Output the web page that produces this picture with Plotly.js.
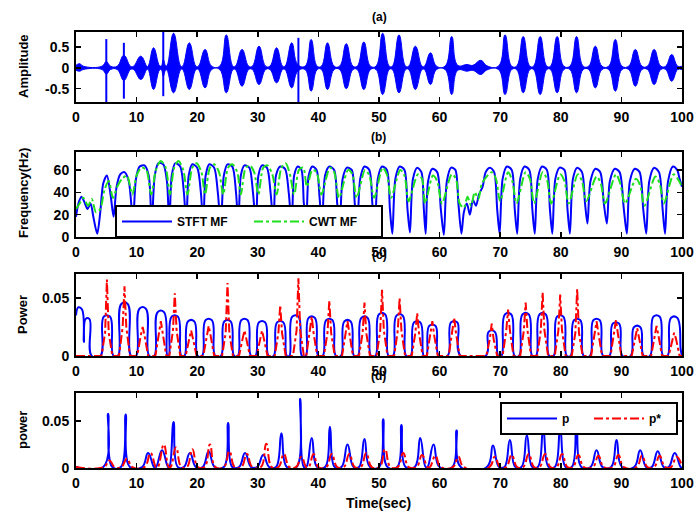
<!DOCTYPE html>
<html>
<head>
<meta charset="utf-8">
<script src="https://cdn.plot.ly/plotly-3.0.1.min.js"></script>
<style>html,body{margin:0;padding:0;background:#fff;}#chart{width:699px;height:512px;}</style>
</head>
<body>
<div id="chart"></div>
<script>
// ---------------- tick labels ----------------
const timeTicks = [0,10,20,30,40,50,60,70,80,90,100];
const ampTicks = [-0.5,0,0.5];
const ampTickText = ['-0.5','0','0.5'];
const freqTicks = [0,20,40,60];
const powTicks = [0,0.05];
const powTickText = ['0','0.05'];

// ---------------- (a) amplitude envelope ----------------
const ampTime = [0,0.6,1.2,4.3,5.0,5.7,6.8,7.9,9.0,9.5,10.7,11.7,11.9,12.8,13.8,14.1,14.4,14.8,15.0,16.1,17.3,17.6,18.7,19.8,20.2,21.3,22.4,23.7,24.8,25.9,26.3,27.4,28.5,29.1,30.2,31.3,32.0,33.1,34.1,34.5,35.6,36.6,37.8,38.8,39.8,40.5,41.5,42.6,43.5,44.6,45.7,46.4,47.5,48.6,49.5,50.6,51.7,52.2,53.3,54.4,54.9,56.0,57.1,57.5,58.5,59.5,60.9,62.0,63.0,64.5,65.5,66.8,67.8,69.7,70.8,71.9,72.7,73.8,74.9,75.5,76.6,77.7,78.3,79.4,80.5,81.5,82.6,83.7,84.6,85.7,86.8,87.9,89.0,90.1,91.2,92.3,93.4,94.3,95.4,96.5,97.3,98.3,99.3,100];
const ampUpper = [.06,.1,.04,.04,.15,.04,.04,.3,.04,.04,.28,.04,.04,.48,.05,.05,.2,.05,.05,.83,.04,.04,.6,.04,.04,.44,.04,.04,.79,.04,.04,.44,.04,.04,.52,.04,.04,.48,.04,.04,.6,.08,.04,.68,.04,.04,.6,.04,.04,.58,.04,.04,.62,.04,.04,.83,.04,.04,.79,.04,.04,.52,.04,.04,.36,.04,.04,.75,.06,.08,.06,.18,.05,.04,.79,.04,.04,.75,.04,.04,.75,.04,.04,.75,.04,.04,.75,.04,.04,.52,.04,.04,.68,.04,.04,.44,.04,.04,.44,.04,.04,.32,.04,.04];
const ampLower = [-.06,-.08,-.04,-.04,-.15,-.04,-.04,-.3,-.04,-.04,-.28,-.04,-.04,-.52,-.05,-.05,-.2,-.05,-.05,-.6,-.04,-.04,-.52,-.04,-.04,-.48,-.04,-.04,-.6,-.04,-.04,-.44,-.04,-.04,-.4,-.04,-.04,-.36,-.04,-.04,-.48,-.08,-.04,-.56,-.04,-.04,-.52,-.04,-.04,-.5,-.04,-.04,-.52,-.04,-.04,-.64,-.04,-.04,-.6,-.04,-.04,-.52,-.04,-.04,-.4,-.04,-.04,-.64,-.06,-.08,-.06,-.16,-.05,-.04,-.64,-.04,-.04,-.6,-.04,-.04,-.64,-.04,-.04,-.6,-.04,-.04,-.6,-.04,-.04,-.48,-.04,-.04,-.56,-.04,-.04,-.44,-.04,-.04,-.4,-.04,-.04,-.32,-.04,-.04];
const spikeTime = [5.0,7.9,14.4,36.7];
const spikeTop = [0.69,0.6,0.86,0.72];
const spikeBottom = [-0.82,-0.74,-0.68,-0.82];

// ---------------- (b) mean frequency ----------------
const stftTime = [0,0.4,0.9,1.4,1.9,2.4,2.9,3.5,4.0,4.5,5.1,5.7,6.2,6.7,7.3,8.0,8.7,9.4,9.9,10.5,11.3,12.0,12.5,13.0,13.6,14.4,15.0,15.4,15.8,16.4,17.2,17.8,18.2,18.6,19.2,20.0,20.6,21.0,21.4,22.0,22.8,23.4,23.9,24.4,25.0,25.8,26.4,26.8,27.2,27.8,28.6,29.2,29.7,30.1,30.7,31.5,32.1,32.6,33.0,33.7,34.5,35.1,35.6,36.0,36.6,37.2,37.6,38.0,38.4,39.0,39.7,40.2,40.6,41.1,41.8,42.6,43.1,43.5,44.0,44.7,45.5,46.0,46.4,46.9,47.6,48.4,48.9,49.3,49.8,50.5,51.3,51.8,52.2,52.7,53.4,54.2,54.7,55.1,55.6,56.3,57.0,57.4,57.7,58.1,58.8,59.6,60.2,60.7,61.2,61.9,62.6,63.1,63.6,64.0,64.5,65.0,65.5,66.0,66.5,67.1,67.6,68.3,69.0,69.5,69.9,70.4,71.1,71.9,72.4,72.8,73.3,74.0,74.8,75.3,75.7,76.2,76.9,77.7,78.2,78.6,79.1,79.8,80.6,81.1,81.5,82.0,82.7,83.5,84.0,84.4,84.9,85.7,86.5,87.1,87.6,88.1,88.9,89.7,90.4,90.9,91.4,92.2,93.0,93.6,94.1,94.6,95.4,96.2,96.8,97.2,97.7,98.5,99.2,99.6,100];
const stftMF = [18,30,36,31,25,30,17,3,22,48,55,38,18,45,56,58,50,15,52,63,64,55,12,55,66,65,50,10,55,66,63,40,10,55,65,62,40,10,55,65,62,40,10,55,65,63,40,10,55,64,62,40,10,55,64,62,40,10,55,63,61,40,10,55,63,60,30,15,55,63,60,35,8,55,63,60,30,5,52,62,60,30,5,52,63,60,30,4,52,63,60,25,3,52,63,60,25,4,52,62,58,25,3,50,61,58,25,2,50,62,60,30,3,22,30,20,33,28,38,45,58,62,58,25,3,52,63,60,25,3,52,63,60,25,3,52,63,60,25,3,52,62,60,25,3,52,62,58,30,12,50,61,58,30,12,50,61,58,25,3,50,61,58,25,3,50,62,58,25,3,50,63,60,52,45];
const cwtTime = [0,0.6,1.2,2.0,2.6,3.3,4.0,4.7,5.4,6.1,6.8,7.6,8.4,9.3,10.0,10.8,11.6,12.4,13.2,14.0,14.8,15.5,16.2,16.9,17.7,18.4,19.2,19.9,20.7,21.3,22.1,22.8,23.6,24.3,25.1,25.8,26.6,27.2,28.0,28.7,29.4,30.1,30.9,31.6,32.4,33.1,33.9,34.6,35.3,36.0,36.8,37.5,38.1,39.0,39.7,40.5,41.9,42.6,43.4,44.9,45.6,46.3,47.7,48.4,49.2,50.6,51.3,52.0,53.5,54.2,54.9,56.4,57.1,57.6,58.9,59.6,60.4,62.0,62.7,63.3,64.0,64.6,65.2,65.8,66.4,67.0,68.6,69.3,70.0,71.3,72.0,72.7,74.2,74.9,75.6,77.0,77.7,78.4,79.9,80.6,81.3,82.8,83.5,84.2,85.9,86.6,87.3,89.1,89.8,90.6,92.4,93.1,93.8,95.6,96.3,97.0,98.6,99.3,100];
const cwtMF = [25,30,35,28,34,22,25,42,50,35,45,52,55,38,55,62,60,38,60,68,62,38,62,68,60,38,62,66,58,38,62,65,58,38,62,65,58,38,62,64,58,38,62,64,56,38,62,66,56,38,60,62,45,60,58,38,62,58,35,60,56,35,60,55,35,62,56,35,60,55,32,56,52,30,55,50,30,56,52,30,26,36,28,40,34,48,58,52,32,58,50,30,58,52,30,58,52,30,56,50,30,56,50,32,54,48,30,56,48,30,52,46,28,54,48,30,56,52,45];

// ---------------- (c) power ----------------
const powStftTime = [0,0.4,1.0,1.3,1.6,2.2,2.6,4.0,4.6,5.6,6.2,6.9,7.5,8.5,9.1,9.9,10.5,11.5,12.1,12.9,13.5,14.5,15.1,15.3,15.8,16.8,17.4,17.9,18.5,19.5,20.1,20.8,21.4,22.4,23.0,23.9,24.5,25.5,26.1,26.7,27.3,28.3,28.9,29.6,30.2,31.2,31.8,32.6,33.2,34.2,34.8,35.2,35.7,36.7,37.3,37.9,38.4,39.4,40.0,40.7,41.3,42.3,42.9,43.7,44.3,45.3,45.9,46.5,47.1,48.1,48.7,49.4,50.0,51.0,51.6,52.3,52.9,53.9,54.5,55.2,55.8,56.8,57.4,57.8,58.3,59.3,59.9,61.3,61.9,62.9,63.5,67.6,68.1,69.1,69.7,70.2,70.8,71.8,72.4,73.1,73.7,74.7,75.3,75.9,76.5,77.5,78.1,78.8,79.4,80.4,81.0,81.6,82.2,83.2,83.8,84.8,85.4,86.4,87.0,88.0,88.6,89.6,90.2,91.5,92.1,93.1,93.7,94.7,95.3,96.3,96.9,97.6,98.2,99.2,99.8,100];
const powStft = [.035,.042,.040,.012,.032,.032,0,0,.034,.034,0,0,.045,.045,0,0,.041,.041,0,0,.038,.038,0,0,.034,.034,0,0,.030,.030,0,0,.031,.031,0,0,.030,.030,0,0,.031,.031,0,0,.029,.029,0,0,.029,.029,0,0,.034,.034,0,0,.033,.033,0,0,.031,.031,0,0,.030,.030,0,0,.033,.033,0,0,.036,.036,0,0,.035,.035,0,0,.029,.029,0,0,.026,.026,0,0,.029,.029,0,0,.021,.021,0,0,.036,.036,0,0,.036,.036,0,0,.036,.036,0,0,.034,.034,0,0,.031,.031,0,0,.031,.031,0,0,.028,.028,0,0,.025,.025,0,0,.034,.034,0,0,.033,.033,.005,0];
const powCwtTime = [0,4.2,4.8,5.1,5.4,6.0,7.1,7.7,8.0,8.3,8.9,10.1,10.7,11.0,11.3,11.9,13.1,13.7,14.0,14.3,14.9,15.4,16.0,16.3,16.6,17.2,18.1,18.7,19.0,19.3,19.9,21.0,21.6,21.9,22.2,22.8,24.1,24.7,25.0,25.3,25.9,26.9,27.5,27.8,28.1,28.7,29.8,30.4,30.7,31.0,31.6,32.8,33.4,33.7,34.0,34.6,35.8,36.4,36.7,37.0,37.6,38.0,38.6,38.9,39.2,39.8,40.9,41.5,41.8,42.1,42.7,43.9,44.5,44.8,45.1,45.7,46.7,47.3,47.6,47.9,48.5,49.6,50.2,50.5,50.8,51.4,52.5,53.1,53.4,53.7,54.3,55.4,56.0,56.3,56.6,57.2,57.9,58.5,58.8,59.1,59.7,61.5,62.1,62.4,62.7,63.3,67.7,68.3,68.6,68.9,69.5,70.4,71.0,71.3,71.6,72.2,73.3,73.9,74.2,74.5,75.1,76.1,76.7,77.0,77.3,77.9,79.0,79.6,79.9,80.2,80.8,81.8,82.4,82.7,83.0,83.6,85.0,85.6,85.9,86.2,86.8,88.2,88.8,89.1,89.4,90.0,91.7,92.3,92.6,92.9,93.5,94.9,95.5,95.8,96.1,96.7,97.8,98.4,98.7,99.0,99.6,100];
const powCwt = [0,0,.02,.066,.02,0,0,.025,.060,.025,0,0,.018,.025,.018,0,0,.02,.030,.02,0,0,.022,.054,.022,0,0,.015,.022,.015,0,0,.018,.026,.018,0,0,.02,.063,.02,0,0,.015,.022,.015,0,0,.015,.022,.015,0,0,.02,.044,.02,0,0,.022,.067,.022,0,0,.02,.034,.02,0,0,.02,.048,.02,0,0,.02,.030,.02,0,0,.02,.046,.02,0,0,.022,.057,.022,0,0,.022,.050,.022,0,0,.02,.037,.02,0,0,.018,.030,.018,0,0,.02,.033,.02,0,0,.015,.028,.015,0,0,.022,.040,.022,0,0,.022,.046,.022,0,0,.022,.055,.022,0,0,.022,.053,.022,0,0,.02,.058,.02,0,0,.02,.030,.02,0,0,.02,.031,.02,0,0,.016,.024,.016,0,0,.018,.026,.018,0,0,.015,.020,.015,0,0];

// ---------------- (d) power p and p* ----------------
const pTime = [0,4.5,5.3,6.0,7.4,8.2,8.9,10.9,11.9,12.9,13.2,14.2,15.2,15.4,16.1,16.8,17.8,18.8,19.8,20.9,21.9,22.9,24.4,25.1,25.8,26.9,27.9,28.9,29.9,30.9,31.9,33.0,33.9,34.8,36.4,37.0,37.6,38.0,38.9,39.8,41.1,41.9,42.7,43.8,44.8,45.8,46.7,47.6,48.5,50.0,50.7,51.4,53.0,53.7,54.4,55.9,56.8,57.7,58.0,59.0,60.0,62.1,62.8,63.5,67.8,68.8,69.8,70.7,71.6,72.5,73.5,74.4,75.3,76.2,77.1,78.0,79.0,79.9,80.8,81.8,82.6,83.4,84.9,85.9,86.9,88.3,89.2,90.1,92.1,93.1,94.1,95.0,96.0,97.0,97.8,98.8,99.8,100];
const pVal = [.001,.001,.058,.001,.001,.057,.001,.001,.016,.001,.001,.019,.001,.001,.049,.001,.001,.016,.001,.001,.018,.001,.001,.048,.001,.001,.016,.001,.001,.014,.001,.001,.037,.001,.001,.074,.001,.001,.032,.001,.001,.044,.001,.001,.025,.001,.001,.031,.001,.001,.052,.001,.001,.046,.001,.001,.032,.001,.001,.025,.001,.001,.040,.001,.001,.024,.001,.001,.030,.001,.001,.035,.001,.001,.039,.001,.001,.039,.001,.001,.044,.001,.001,.019,.001,.001,.030,.001,.001,.019,.001,.001,.018,.001,.001,.016,.001,.001];
const pStarTime = [0,4.6,5.5,6.4,7.5,8.4,9.3,11.3,12.3,13.2,13.5,14.5,15.3,15.6,16.5,17.4,18.3,19.2,20.1,21.2,22.1,23.0,24.4,25.3,26.2,27.3,28.2,29.1,30.5,31.4,32.3,33.4,34.3,35.2,36.3,37.2,38.0,38.4,39.2,40.0,41.3,42.2,43.1,44.2,45.1,46.0,47.0,47.9,48.8,50.1,51.0,51.9,53.1,54.0,54.9,56.2,57.1,58.0,58.4,59.3,60.2,62.2,63.1,64.0,68.2,69.1,70.0,71.0,71.9,72.8,73.8,74.7,75.6,76.5,77.4,78.3,79.3,80.2,81.1,82.0,82.9,83.8,85.3,86.2,87.1,88.6,89.5,90.4,92.5,93.4,94.3,95.4,96.3,97.2,98.2,99.1,100];
const pStarVal = [.001,.001,.008,.001,.001,.010,.001,.001,.016,.001,.001,.025,.001,.001,.022,.001,.001,.020,.001,.001,.025,.001,.001,.018,.001,.001,.015,.001,.001,.026,.001,.001,.015,.001,.001,.012,.001,.001,.015,.001,.001,.015,.001,.001,.015,.001,.001,.016,.001,.001,.020,.001,.001,.016,.001,.001,.014,.001,.001,.013,.001,.001,.012,.001,.001,.012,.001,.001,.014,.001,.001,.015,.001,.001,.015,.001,.001,.015,.001,.001,.014,.001,.001,.013,.001,.001,.014,.001,.001,.013,.001,.001,.013,.001,.001,.012,.002];

// ---------------- styling ----------------
const BLUE = '#0000ff', RED = '#ff0000', GREEN = '#1ee01e';
const FONT = 'Liberation Sans, Arial, Helvetica, sans-serif';
const W = 699, H = 512;
const px = v => v / W, py = v => 1 - v / H;

// spike segments for (a)
const spikeX = [], spikeY = [];
spikeTime.forEach((t, i) => { spikeX.push(t, t, null); spikeY.push(spikeBottom[i], spikeTop[i], null); });

const traces = [
  {x: ampTime, y: ampUpper, xaxis:'x', yaxis:'y', mode:'lines', line:{color:BLUE, width:1, shape:'spline', smoothing:1.3}, showlegend:false, hoverinfo:'skip'},
  {x: ampTime, y: ampLower, xaxis:'x', yaxis:'y', mode:'lines', fill:'tonexty', fillcolor:BLUE, line:{color:BLUE, width:1, shape:'spline', smoothing:1.3}, showlegend:false, hoverinfo:'skip'},
  {x: spikeX, y: spikeY, xaxis:'x', yaxis:'y', mode:'lines', line:{color:BLUE, width:2}, showlegend:false, hoverinfo:'skip'},

  {x: stftTime, y: stftMF, xaxis:'x2', yaxis:'y2', mode:'lines', name:'STFT MF', legend:'legend', line:{color:BLUE, width:2, shape:'spline', smoothing:0.8}},
  {x: cwtTime, y: cwtMF, xaxis:'x2', yaxis:'y2', mode:'lines', name:'CWT MF', legend:'legend', line:{color:GREEN, width:2, dash:'dashdot', shape:'spline', smoothing:0.8}},

  {x: powStftTime, y: powStft, xaxis:'x3', yaxis:'y3', mode:'lines', showlegend:false, line:{color:BLUE, width:2, shape:'spline', smoothing:1.3}},
  {x: powCwtTime, y: powCwt, xaxis:'x3', yaxis:'y3', mode:'lines', showlegend:false, line:{color:RED, width:2, dash:'dashdot'}},

  {x: pTime, y: pVal, xaxis:'x4', yaxis:'y4', mode:'lines', name:'p', legend:'legend2', line:{color:BLUE, width:2, shape:'spline', smoothing:1.3}},
  {x: pStarTime, y: pStarVal, xaxis:'x4', yaxis:'y4', mode:'lines', name:'p*', legend:'legend2', line:{color:RED, width:2, dash:'dashdot', shape:'spline', smoothing:1.3}}
];

const tickFont = {family: FONT, size: 14, color: '#000', weight: 'bold'};
function xAxis(anchor) {
  return {domain:[px(76), px(682)], anchor: anchor, range:[0,100], tickvals: timeTicks, ticktext: timeTicks.map(String),
    ticks:'inside', ticklen:5, tickwidth:1.5, tickcolor:'#000', showline:true, linewidth:2, linecolor:'#000', mirror:'ticks',
    showgrid:false, zeroline:false, tickfont: tickFont, ticklabelstandoff: 1, fixedrange:true, automargin:false};
}
function yAxis(anchor, top, bottom, range, tv, tt) {
  return {domain:[py(bottom), py(top)], anchor: anchor, range: range, tickvals: tv, ticktext: tt,
    ticks:'inside', ticklen:5, tickwidth:1.5, tickcolor:'#000', showline:true, linewidth:2, linecolor:'#000', mirror:'ticks',
    showgrid:false, zeroline:false, tickfont: tickFont, ticklabelstandoff: 2, fixedrange:true, automargin:false};
}

const bold = {family: FONT, color:'#000', weight:'bold'};
const ann = (text, x, y, size, angle) => ({text: text, x: px(x), y: py(y), xref:'paper', yref:'paper', showarrow:false,
  xanchor:'center', yanchor:'middle', textangle: angle || 0, font: Object.assign({size: size}, bold)});

const layout = {
  width: W, height: H, margin:{l:0, r:0, t:0, b:0, autoexpand:false}, paper_bgcolor:'#fff', plot_bgcolor:'#fff',
  showlegend: true,
  xaxis: xAxis('y'),
  yaxis: yAxis('x', 32, 102, [-0.82, 0.86], ampTicks, ampTickText),
  xaxis2: xAxis('y2'),
  yaxis2: yAxis('x2', 152, 237, [0, 76], freqTicks, freqTicks.map(String)),
  xaxis3: xAxis('y3'),
  yaxis3: yAxis('x3', 274, 356, [0, 0.0707], powTicks, powTickText),
  xaxis4: xAxis('y4'),
  yaxis4: yAxis('x4', 393, 468, [0, 0.08], powTicks, powTickText),
  legend: {x: px(115), y: py(205), xanchor:'left', yanchor:'top', orientation:'h', traceorder:'normal', bgcolor:'#fff', bordercolor:'#000', borderwidth:2,
    itemwidth: 50, entrywidth: 67, font: Object.assign({size:12}, bold), itemclick:false, itemdoubleclick:false},
  legend2: {x: px(678), y: py(402), xanchor:'right', yanchor:'top', orientation:'h', traceorder:'normal', bgcolor:'#fff', bordercolor:'#000', borderwidth:2,
    itemwidth: 50, entrywidth: 22, font: Object.assign({size:12}, bold), itemclick:false, itemdoubleclick:false},
  annotations: [
    ann('(a)', 380, 17, 12), ann('(b)', 378, 137, 12), ann('(c)', 380, 255, 12), ann('(d)', 378, 376, 12),
    ann('Time(sec)', 378, 503, 14),
    ann('Amplitude', 23, 66, 13, -90), ann('Frequency(Hz)', 23, 193, 13, -90),
    ann('Power', 22, 315, 13, -90), ann('power', 22, 430, 13, -90)
  ]
};

Plotly.newPlot('chart', traces, layout, {displayModeBar:false, staticPlot:true});
</script>
</body>
</html>
